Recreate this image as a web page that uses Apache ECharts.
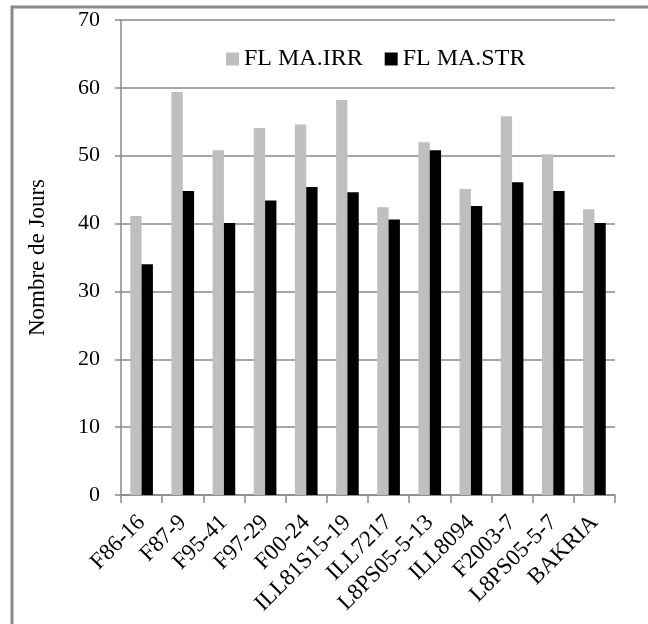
<!DOCTYPE html>
<html>
<head>
<meta charset="utf-8">
<script src="https://cdn.jsdelivr.net/npm/echarts@6/dist/echarts.min.js"></script>
<style>
html,body{margin:0;padding:0;background:#fff;}
#c{width:648px;height:624px;}
</style>
</head>
<body>
<div id="c"></div>
<script>
var categories = ['F86-16','F87-9','F95-41','F97-29','F00-24','ILL81S15-19','ILL7217','L8PS05-5-13','ILL8094','F2003-7','L8PS05-5-7','BAKRIA'];
var seriesNames = ['FL MA.IRR','FL MA.STR'];
var irrValues = [41.1, 59.4, 50.8, 54.1, 54.6, 58.2, 42.4, 52.0, 45.1, 55.8, 50.2, 42.1];
var strValues = [34.0, 44.8, 40.1, 43.4, 45.4, 44.6, 40.6, 50.8, 42.6, 46.1, 44.8, 40.1];
var yTicks = {min: 0, max: 70, interval: 10};

var FONT = 'Liberation Serif';
var chart = echarts.init(document.getElementById('c'), null, {renderer: 'canvas'});
chart.setOption({
  animation: false,
  backgroundColor: '#fff',
  graphic: [{
    type: 'rect',
    shape: {x: 12, y: 7, width: 700, height: 700},
    style: {fill: 'none', stroke: '#898989', lineWidth: 3},
    silent: true
  }],
  legend: {
    left: 221, top: 42,
    icon: 'rect', itemWidth: 13, itemHeight: 13, itemGap: 22,
    textStyle: {fontFamily: FONT, fontSize: 24, color: '#000'},
    data: seriesNames
  },
  grid: {left: 121, right: 33, top: 20, bottom: 129, containLabel: false, outerBoundsMode: 'none'},
  xAxis: {
    type: 'category',
    data: categories,
    axisLine: {lineStyle: {color: '#898989', width: 1.5}},
    axisTick: {show: true, length: 8, lineStyle: {color: '#898989', width: 1.5}},
    axisLabel: {rotate: 45, margin: 24, fontFamily: FONT, fontSize: 23, color: '#000', interval: 0}
  },
  yAxis: {
    type: 'value',
    min: yTicks.min, max: yTicks.max, interval: yTicks.interval,
    name: 'Nombre de Jours',
    nameLocation: 'middle',
    nameRotate: 90,
    nameGap: 72,
    nameTextStyle: {fontFamily: FONT, fontSize: 23, color: '#000'},
    axisLine: {show: true, lineStyle: {color: '#898989', width: 1.5}},
    axisTick: {show: true, length: 6, lineStyle: {color: '#898989', width: 1.5}},
    axisLabel: {margin: 21, fontFamily: FONT, fontSize: 22, color: '#000'},
    splitLine: {show: true, lineStyle: {color: '#898989', width: 1.5}}
  },
  series: [
    {name: seriesNames[0], type: 'bar', data: irrValues, itemStyle: {color: '#BFBFBF'}, barGap: '0%', barCategoryGap: '45%'},
    {name: seriesNames[1], type: 'bar', data: strValues, itemStyle: {color: '#000000'}, barGap: '0%', barCategoryGap: '45%'}
  ]
});
</script>
</body>
</html>
